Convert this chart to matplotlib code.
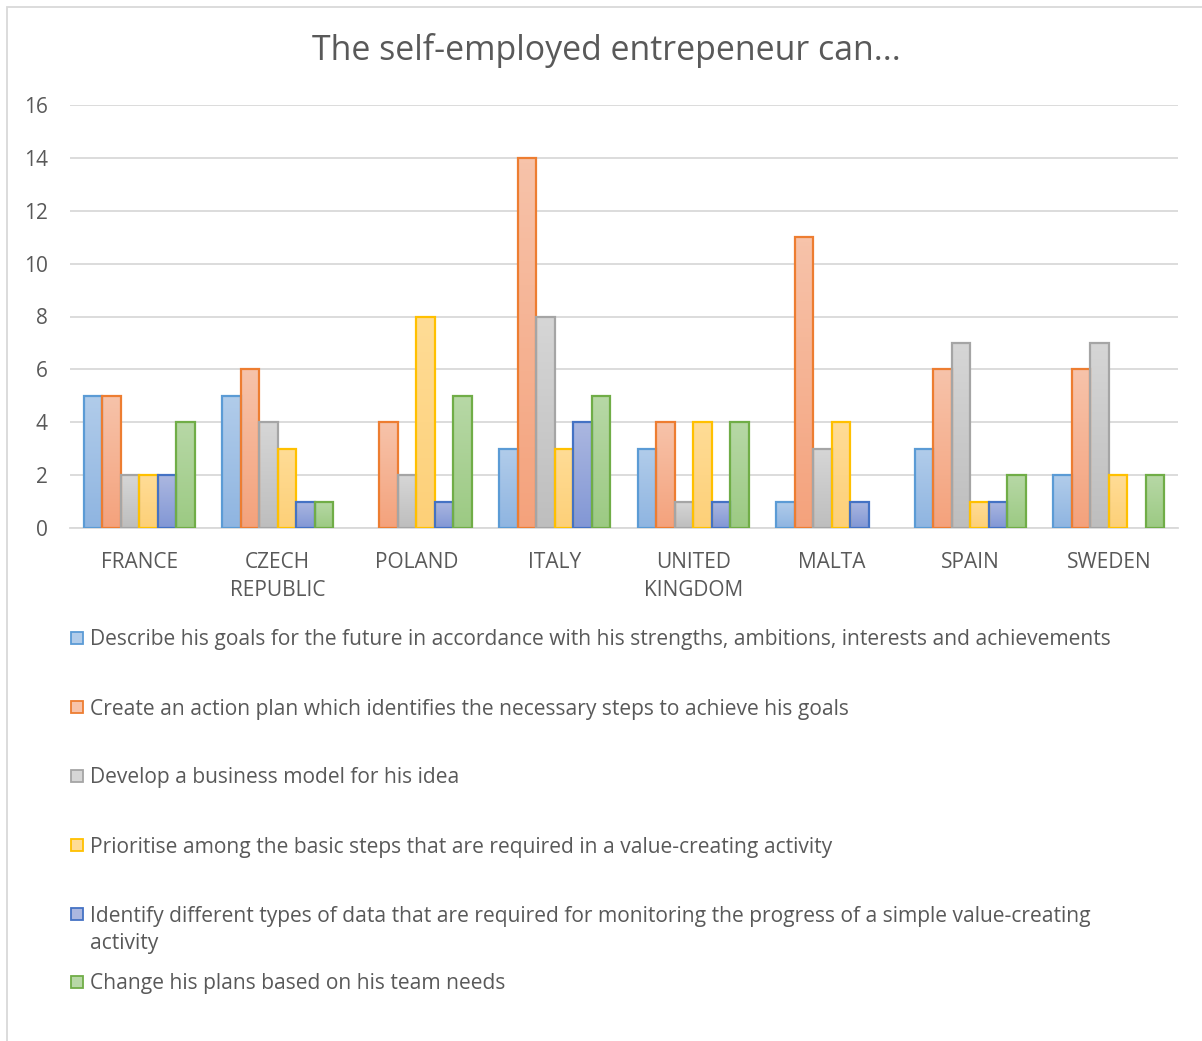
import numpy as np
import matplotlib.pyplot as plt
from matplotlib.patches import Rectangle
from matplotlib.colors import LinearSegmentedColormap

plt.rcParams['font.family'] = ['Open Sans', 'DejaVu Sans']

countries = ['FRANCE', 'CZECH\nREPUBLIC', 'POLAND', 'ITALY', 'UNITED\nKINGDOM',
             'MALTA', 'SPAIN', 'SWEDEN']

goals_future = [5, 5, 0, 3, 3, 1, 3, 2]
action_plan = [5, 6, 4, 14, 4, 11, 6, 6]
business_model = [2, 4, 2, 8, 1, 3, 7, 7]
prioritise = [2, 3, 8, 3, 4, 4, 1, 2]
monitoring_data = [2, 1, 1, 4, 1, 1, 1, 0]
change_plans = [4, 1, 5, 5, 4, 0, 2, 2]

series_labels = [
    'Describe his goals for the future in accordance with his strengths, ambitions, interests and achievements',
    'Create an action plan which identifies the necessary steps to achieve his goals',
    'Develop a business model for his idea',
    'Prioritise among the basic steps that are required in a value-creating activity',
    'Identify different types of data that are required for monitoring the progress of a simple value-creating\nactivity',
    'Change his plans based on his team needs',
]

# edge colour, gradient top, gradient bottom
styles = [
    ('#5B9BD5', '#B1CCEA', '#8FB5E1'),
    ('#ED7D31', '#F7C3AA', '#F4A27C'),
    ('#A5A5A5', '#D6D6D6', '#BEBEBE'),
    ('#FFC000', '#FFDC96', '#FDD078'),
    ('#4472C4', '#ABB7E0', '#8297D5'),
    ('#70AD47', '#B7D8A6', '#9CCA83'),
]

series = [goals_future, action_plan, business_model, prioritise, monitoring_data, change_plans]

W, H = 1202, 1041
fig = plt.figure(figsize=(W / 100, H / 100), dpi=100)
ax = fig.add_axes([70 / W, 1 - 528 / H, (1178 - 70) / W, (528 - 105) / H])

text_col = '#595959'
grid_col = '#D9D9D9'

# outer chart border (right and bottom run past the canvas)
fig.patches.append(Rectangle((7 / W, -0.02), 1.05, 1 - 7 / H + 0.02, transform=fig.transFigure,
                             fill=False, edgecolor=grid_col, lw=1.3))

x = np.arange(len(countries))
n = len(series)
bw = 0.8 / n

for i, (vals, (edge, top, bot)) in enumerate(zip(series, styles)):
    cmap = LinearSegmentedColormap.from_list('g%d' % i, [bot, top])
    offs = x - 0.4 + bw * (i + 0.5)
    lws = [1.6 if v > 0 else 0 for v in vals]
    bars = ax.bar(offs, vals, width=bw, facecolor='none', edgecolor=edge, linewidth=lws, zorder=3)
    for b in bars:
        h = b.get_height()
        if h <= 0:
            continue
        x0 = b.get_x()
        im = ax.imshow(np.linspace(0, 1, 64).reshape(-1, 1), cmap=cmap, origin='lower',
                       extent=[x0, x0 + bw, 0, h], aspect='auto', zorder=2)
        im.set_clip_path(b)

ax.set_xlim(-0.5, len(countries) - 0.5)
ax.set_ylim(0, 16)
ax.set_yticks(range(0, 17, 2))
ax.yaxis.grid(True, color=grid_col, lw=1.3, zorder=0)
ax.set_axisbelow(True)
for s in ax.spines.values():
    s.set_visible(False)
ax.spines['bottom'].set_visible(True)
ax.spines['bottom'].set_color(grid_col)
ax.spines['bottom'].set_linewidth(1.3)
ax.tick_params(length=0, labelcolor=text_col, labelsize=15)
ax.tick_params(axis='y', pad=16)
ax.tick_params(axis='x', pad=17.5)
ax.set_xticks(x)
ax.set_xticklabels(countries, linespacing=1.4)

fig.text(606 / W, 1 - 50 / H, 'The self-employed entrepeneur can...', ha='center', va='center',
         fontsize=24.4, color=text_col)

# legend, one entry per row
legend_y = [638, 707, 776, 845, 914, 982]
for (edge, top, bot), label, ly in zip(styles, series_labels, legend_y):
    fig.patches.append(Rectangle((71 / W, 1 - (ly + 6) / H), 12 / W, 12 / H,
                                 transform=fig.transFigure, facecolor=top,
                                 edgecolor=edge, lw=1.3))
    ty = ly + 2 + 14 * label.count('\n')
    fig.text(90 / W, 1 - ty / H, label, ha='left', va='center',
             fontsize=15.1, color=text_col, linespacing=1.42)

fig.savefig('out.png', dpi=100)
